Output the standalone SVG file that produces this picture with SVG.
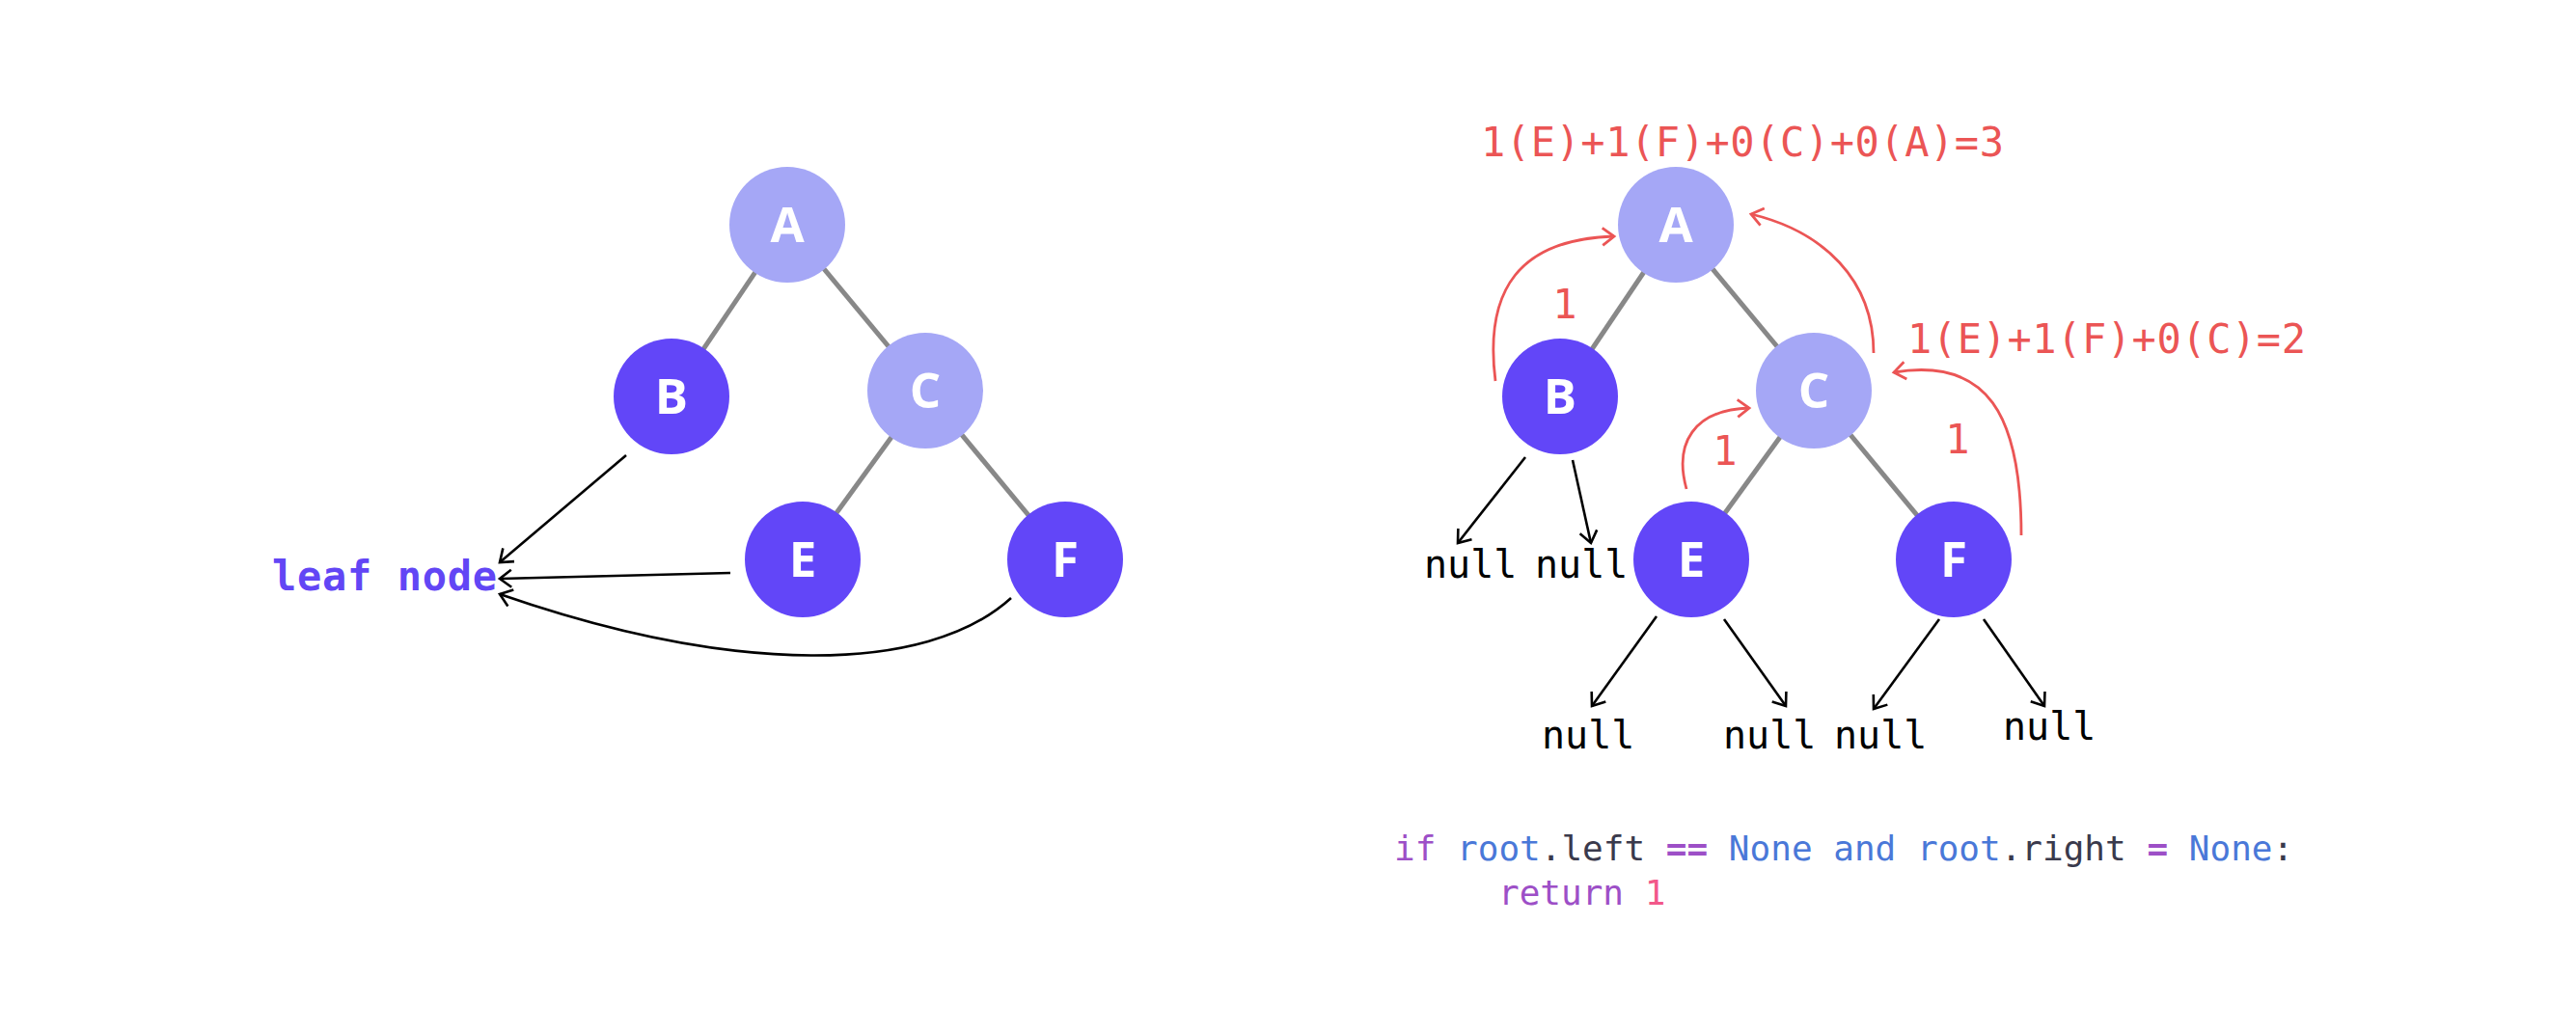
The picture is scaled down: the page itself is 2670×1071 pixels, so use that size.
<svg xmlns="http://www.w3.org/2000/svg" width="2670" height="1071" viewBox="0 0 2670 1071">
<defs>
<style>
.edge{stroke:#888888;stroke-width:5;fill:none}
.blk{stroke:#000;stroke-width:2.6;fill:none}
.red{stroke:#EB5555;stroke-width:2.8;fill:none}
.light{fill:#A5A7F6}
.dark{fill:#6246F8}
.lbl{font-family:"Open Sans","DejaVu Sans",sans-serif;font-weight:bold;font-size:51px;fill:#fff;text-anchor:middle}
.mono{font-family:"DejaVu Sans Mono","Liberation Mono",monospace}
.rt{font-family:"DejaVu Sans Mono","Liberation Mono",monospace;font-size:42px;fill:#EB5555}
.nul{font-family:"DejaVu Sans Mono","Liberation Mono",monospace;font-size:40px;fill:#000}
</style>
<marker id="ab" markerUnits="userSpaceOnUse" markerWidth="30" markerHeight="30" viewBox="-15 -15 30 30" refX="0" refY="0" orient="auto">
<path d="M-12,-9 L0,0 L-12,9" fill="none" stroke="#000" stroke-width="2.6"/>
</marker>
<marker id="ar" markerUnits="userSpaceOnUse" markerWidth="30" markerHeight="30" viewBox="-15 -15 30 30" refX="0" refY="0" orient="auto">
<path d="M-12,-9 L0,0 L-12,9" fill="none" stroke="#EB5555" stroke-width="2.8"/>
</marker>
</defs>
<rect width="2670" height="1071" fill="#fff"/>
<g id="connectors">
<line class="edge" x1="816" y1="233" x2="696" y2="411"/>
<line class="edge" x1="816" y1="233" x2="959" y2="405"/>
<line class="edge" x1="959" y1="405" x2="832" y2="580"/>
<line class="edge" x1="959" y1="405" x2="1104" y2="580"/>
<line class="edge" x1="1737" y1="233" x2="1617" y2="411"/>
<line class="edge" x1="1737" y1="233" x2="1880" y2="405"/>
<line class="edge" x1="1880" y1="405" x2="1753" y2="580"/>
<line class="edge" x1="1880" y1="405" x2="2025" y2="580"/>
<line class="blk" x1="649" y1="472" x2="518" y2="583" marker-end="url(#ab)"/>
<line class="blk" x1="757" y1="594" x2="518" y2="600" marker-end="url(#ab)"/>
<path class="blk" d="M1048,620 C960,700 760,700 518,616" marker-end="url(#ab)"/>
<line class="blk" x1="1581" y1="474" x2="1511" y2="563" marker-end="url(#ab)"/>
<line class="blk" x1="1630" y1="477" x2="1649" y2="563" marker-end="url(#ab)"/>
<line class="blk" x1="1717" y1="639" x2="1650" y2="732" marker-end="url(#ab)"/>
<line class="blk" x1="1787" y1="642" x2="1851" y2="732" marker-end="url(#ab)"/>
<line class="blk" x1="2010" y1="642" x2="1942" y2="735" marker-end="url(#ab)"/>
<line class="blk" x1="2056" y1="642" x2="2119" y2="732" marker-end="url(#ab)"/>
<path class="red" d="M1550,395 C1538,300 1575,248 1673,245" marker-end="url(#ar)"/>
<path class="red" d="M1942,366 C1942,290 1890,240 1815,222" marker-end="url(#ar)"/>
<path class="red" d="M1748,507 C1735,460 1755,425 1813,423" marker-end="url(#ar)"/>
<path class="red" d="M2095,555 C2095,430 2060,370 1963,386" marker-end="url(#ar)"/>
</g>
<g id="left-A"><circle class="light" cx="816" cy="233" r="60"/><text class="lbl" x="816" y="251">A</text></g>
<g id="left-B"><circle class="dark" cx="696" cy="411" r="60"/><text class="lbl" x="696" y="429">B</text></g>
<g id="left-C"><circle class="light" cx="959" cy="405" r="60"/><text class="lbl" x="959" y="423">C</text></g>
<g id="left-E"><circle class="dark" cx="832" cy="580" r="60"/><text class="lbl" x="832" y="598">E</text></g>
<g id="left-F"><circle class="dark" cx="1104" cy="580" r="60"/><text class="lbl" x="1104" y="598">F</text></g>
<g id="leaf-label"><text class="mono" x="282" y="612" font-size="42" font-weight="bold" fill="#6246F5" textLength="233">leaf node</text></g>
<g id="right-A"><circle class="light" cx="1737" cy="233" r="60"/><text class="lbl" x="1737" y="251">A</text></g>
<g id="right-B"><circle class="dark" cx="1617" cy="411" r="60"/><text class="lbl" x="1617" y="429">B</text></g>
<g id="right-C"><circle class="light" cx="1880" cy="405" r="60"/><text class="lbl" x="1880" y="423">C</text></g>
<g id="right-E"><circle class="dark" cx="1753" cy="580" r="60"/><text class="lbl" x="1753" y="598">E</text></g>
<g id="right-F"><circle class="dark" cx="2025" cy="580" r="60"/><text class="lbl" x="2025" y="598">F</text></g>
<g id="red-labels">
<text class="rt" x="1535" y="162" textLength="542">1(E)+1(F)+0(C)+0(A)=3</text>
<text class="rt" x="1977" y="366" textLength="413">1(E)+1(F)+0(C)=2</text>
<text class="rt" x="1622" y="330" text-anchor="middle">1</text>
<text class="rt" x="1788" y="482" text-anchor="middle">1</text>
<text class="rt" x="2029" y="470" text-anchor="middle">1</text>
</g>
<g id="nulls">
<text class="nul" x="1476" y="599">null</text>
<text class="nul" x="1591" y="599">null</text>
<text class="nul" x="1598" y="776">null</text>
<text class="nul" x="1786" y="776">null</text>
<text class="nul" x="1901" y="776">null</text>
<text class="nul" x="2076" y="767">null</text>
</g>
<g id="code" class="mono" font-size="36">
<text x="1445" y="892" xml:space="preserve"><tspan fill="#9D4FC7">if</tspan> <tspan fill="#4A78D8">root</tspan><tspan fill="#3A3A4C">.left</tspan> <tspan fill="#9D4FC7" font-weight="bold">==</tspan> <tspan fill="#4A78D8">None</tspan> <tspan fill="#4A78D8">and</tspan> <tspan fill="#4A78D8">root</tspan><tspan fill="#3A3A4C">.right</tspan> <tspan fill="#9D4FC7" font-weight="bold">=</tspan> <tspan fill="#4A78D8">None</tspan><tspan fill="#3A3A4C">:</tspan></text>
<text x="1553" y="938"><tspan fill="#9D4FC7">return</tspan> <tspan fill="#F2588A">1</tspan></text>
</g>
</svg>
